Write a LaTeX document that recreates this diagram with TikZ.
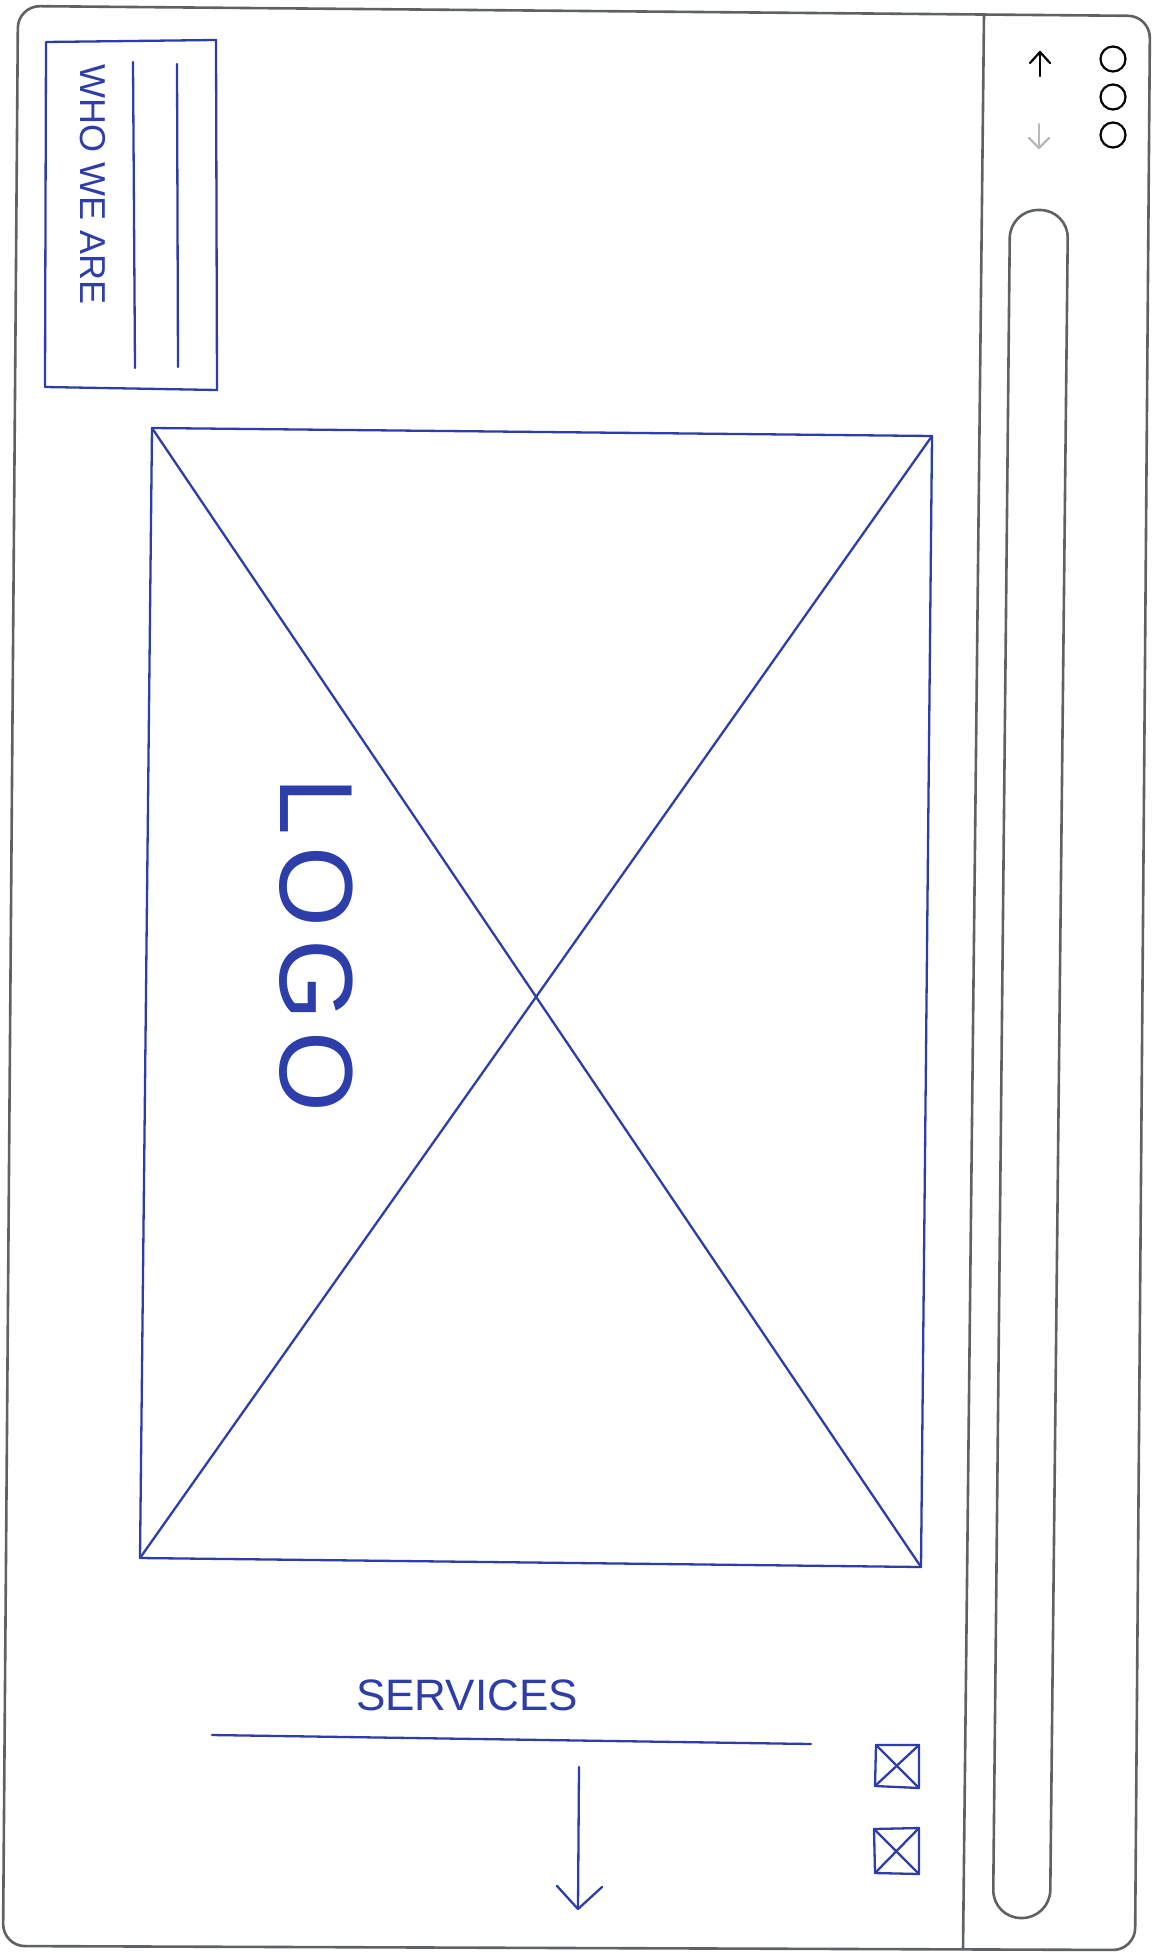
\documentclass[tikz,border=0pt]{standalone}
\usepackage{fontspec}
\setmainfont{Liberation Sans}
\definecolor{penblue}{RGB}{45,62,170}
\definecolor{framegray}{RGB}{95,98,100}
\definecolor{lightgray}{RGB}{185,185,185}
\begin{document}
\begin{tikzpicture}[x=0.5pt,y=-0.5pt,
  frame/.style={draw=framegray, line width=1.3pt, line join=round},
  pen/.style={draw=penblue, line width=1.15pt, line cap=round, line join=round},
  hand/.style={text=penblue, inner sep=0pt},
  icon/.style={draw=black, line width=1.1pt, line cap=round, line join=round}]
\useasboundingbox (0,0) rectangle (1152,1957);
\fill[white] (0,0) rectangle (1152,1957);

% outer window frame
\coordinate (fTL) at (18,6);
\coordinate (fTR) at (1150,16);
\coordinate (fBR) at (1135,1950);
\coordinate (fBL) at (3,1946);
\draw[frame, rounded corners=11pt] (fTL) -- (fTR) -- (fBR) -- (fBL) -- cycle;
% separator
\coordinate (sT) at (984,14);
\coordinate (sB) at (963,1950);
\draw[frame] (sT) -- (sB);
% scrollbar pill
\coordinate (pTL) at (1010,210);
\coordinate (pTR) at (1068,210);
\coordinate (pBR) at (1050,1918);
\coordinate (pBL) at (993,1918);
\draw[frame, rounded corners=14pt] (pTL) -- (pTR) -- (pBR) -- (pBL) -- cycle;

% up / down arrows
\coordinate (uA) at (1040,76); \coordinate (uB) at (1040,52);
\draw[icon] (uA) -- (uB);
\draw[icon] (1030,63) -- (uB) -- (1050,63);
\coordinate (dA) at (1039,124); \coordinate (dB) at (1039,148);
\draw[icon, draw=lightgray] (dA) -- (dB);
\draw[icon, draw=lightgray] (1029,138) -- (dB) -- (1049,138);
% three circles
\node[draw=black, line width=1.1pt, circle, minimum size=12.5pt, inner sep=0] (c1) at (1113,59) {};
\node[draw=black, line width=1.1pt, circle, minimum size=12.5pt, inner sep=0] (c2) at (1113,97) {};
\node[draw=black, line width=1.1pt, circle, minimum size=12.5pt, inner sep=0] (c3) at (1113,135) {};

% WHO WE ARE box
\coordinate (wTL) at (46,42);
\coordinate (wTR) at (216,40);
\coordinate (wBR) at (217,390);
\coordinate (wBL) at (45,387);
\draw[pen] (wTL) -- (wTR) -- (wBR) -- (wBL) -- cycle;
\node[hand, rotate=-90, font=\fontsize{18}{18}\selectfont] (who) at (93,185) {WHO WE ARE};
\coordinate (l1a) at (133,62); \coordinate (l1b) at (135,368);
\coordinate (l2a) at (177,64); \coordinate (l2b) at (178,367);
\draw[pen] (l1a) -- (l1b);
\draw[pen] (l2a) -- (l2b);

% big image placeholder
\coordinate (bTL) at (152,428);
\coordinate (bTR) at (932,436);
\coordinate (bBR) at (921,1567);
\coordinate (bBL) at (140,1558);
\draw[pen] (bTL) -- (bTR) -- (bBR) -- (bBL) -- cycle;
\draw[pen] (bTL) -- (bBR);
\draw[pen] (bTR) -- (bBL);
\node[hand, rotate=-90, font=\fontsize{52}{52}\selectfont\addfontfeature{LetterSpace=11}] (logo) at (316,945) {LOGO};

% services
\node[hand, font=\fontsize{22}{22}\selectfont] (services) at (467,1695) {SERVICES};
\coordinate (rA) at (212,1735);
\coordinate (rB) at (811,1744);
\draw[pen] (rA) -- (rB);
\coordinate (aT) at (579,1767);
\coordinate (aB) at (578,1909);
\draw[pen] (aT) -- (aB);
\draw[pen] (557,1886) -- (aB) -- (602,1887);

% checkboxes
\coordinate (k1a) at (876,1745); \coordinate (k1b) at (919,1745);
\coordinate (k1c) at (919,1788); \coordinate (k1d) at (875,1786);
\draw[pen] (k1a) -- (k1b) -- (k1c) -- (k1d) -- cycle;
\draw[pen] (k1a) -- (k1c); \draw[pen] (k1b) -- (k1d);
\coordinate (k2a) at (874,1829); \coordinate (k2b) at (919,1828);
\coordinate (k2c) at (919,1874); \coordinate (k2d) at (875,1873);
\draw[pen] (k2a) -- (k2b) -- (k2c) -- (k2d) -- cycle;
\draw[pen] (k2a) -- (k2c); \draw[pen] (k2b) -- (k2d);
\end{tikzpicture}
\end{document}
